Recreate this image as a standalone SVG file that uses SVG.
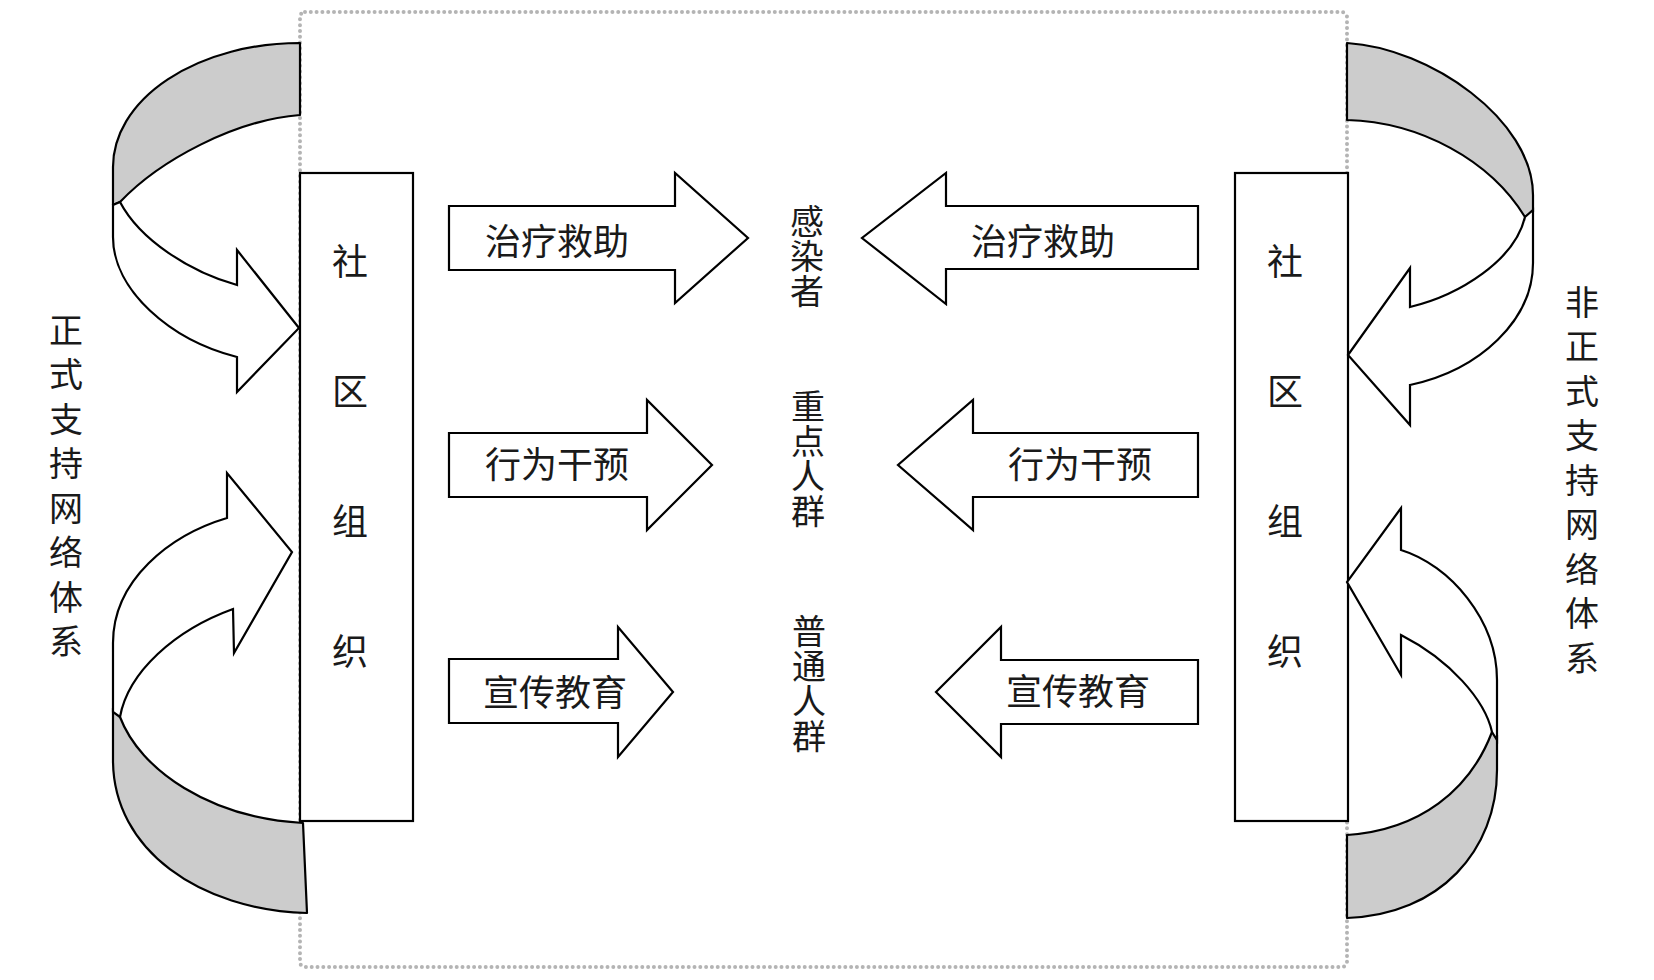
<svg xmlns="http://www.w3.org/2000/svg" width="1654" height="980" viewBox="0 0 1654 980">
<style>
.frame{fill:none;stroke:#b4b4b4;stroke-width:4;stroke-dasharray:0 5.8;stroke-linecap:round}
.box{fill:#fff;stroke:#000;stroke-width:2.2}
.shp{fill:#fff;stroke:#000;stroke-width:2.2;stroke-linejoin:miter}
.band{fill:#cccccc;stroke:#000;stroke-width:2.2;stroke-linejoin:round}
text{font-family:"Noto Sans CJK SC","Noto Sans",sans-serif;fill:#1a1a1a;text-anchor:middle;dominant-baseline:central}
.lbl{font-size:36px}
.vt{font-size:34px;writing-mode:vertical-rl;letter-spacing:1px}
.side{font-size:34px;writing-mode:vertical-rl;letter-spacing:10.5px}
.bx{font-size:36px}
</style>
<rect width="1654" height="980" fill="#fff"/>
<rect id="frame" class="frame" x="300" y="12" width="1047" height="955" rx="5"/>

<g id="box-left">
<rect class="box" x="300" y="173" width="113" height="648"/>
<text class="bx"><tspan x="350" y="259">社</tspan><tspan x="350" y="389">区</tspan><tspan x="350" y="519">组</tspan><tspan x="350" y="649">织</tspan></text>
</g>
<g id="box-right">
<rect class="box" x="1235" y="173" width="113" height="648"/>
<text class="bx"><tspan x="1285" y="259">社</tspan><tspan x="1285" y="389">区</tspan><tspan x="1285" y="519">组</tspan><tspan x="1285" y="649">织</tspan></text>
</g>

<g id="target-infected">
<text class="vt" x="807" y="257">感染者</text>
</g>
<g id="target-key">
<text class="vt" x="808" y="459">重点人群</text>
</g>
<g id="target-general">
<text class="vt" x="809" y="684">普通人群</text>
</g>

<g id="label-formal">
<text class="side" x="66" y="491">正式支持网络体系</text>
</g>
<g id="label-informal">
<text class="side" x="1582" y="485">非正式支持网络体系</text>
</g>

<g id="connectors">
<g id="curved-left-top">
<path class="band" d="M300,43 A187,124 0 0 0 113,167 L113,205 L120,202 C160,160 235,120 300,115 Z"/>
<path class="shp" d="M120,202 C140,240 190,272 237,285 L237,250 L299,328 L237,392 L237,357 C170,340 113,290 113,237 L113,205 Z"/>
</g>
<g id="curved-left-bottom">
<path class="band" d="M113,708 L120,717 C140,770 210,818 303,823 L307,913 C200,910 113,850 113,760 Z"/>
<path class="shp" d="M120,717 C128,672 175,630 233,609 L234,653 L292,552 L227,473 L227,518 C170,535 113,580 113,643 L113,712 Z"/>
</g>
<g id="curved-right-top">
<path class="band" d="M1347,43 C1430,48 1533,120 1533,195 L1533,212 L1525,217 C1490,160 1420,122 1347,120 Z"/>
<path class="shp" d="M1525,217 C1515,260 1460,295 1410,307 L1410,268 L1348,355 L1410,425 L1410,385 C1480,370 1533,320 1533,263 L1533,210 Z"/>
</g>
<g id="curved-right-bottom">
<path class="band" d="M1497,735 L1492,732 C1470,790 1420,830 1347,835 L1347,918 C1440,915 1497,850 1497,770 Z"/>
<path class="shp" d="M1492,732 C1485,700 1450,660 1401,635 L1401,675 L1347,582 L1401,508 L1401,550 C1450,565 1497,620 1497,680 L1497,740 Z"/>
</g>

<g id="arrow-l-treat">
<polygon class="shp" points="449,206 675,206 675,173 748,238 675,303 675,270 449,270"/>
<text class="lbl" x="557" y="239">治疗救助</text>
</g>
<g id="arrow-l-behav">
<polygon class="shp" points="449,433 647,433 647,400 712,465 647,530 647,497 449,497"/>
<text class="lbl" x="557" y="462">行为干预</text>
</g>
<g id="arrow-l-edu">
<polygon class="shp" points="449,659 618,659 618,627 673,692 618,757 618,723 449,723"/>
<text class="lbl" x="555" y="690">宣传教育</text>
</g>
<g id="arrow-r-treat">
<polygon class="shp" points="1198,206 946,206 946,173 862,238 946,304 946,269 1198,269"/>
<text class="lbl" x="1043" y="239">治疗救助</text>
</g>
<g id="arrow-r-behav">
<polygon class="shp" points="1198,433 973,433 973,400 898,465 973,530 973,497 1198,497"/>
<text class="lbl" x="1080" y="462">行为干预</text>
</g>
<g id="arrow-r-edu">
<polygon class="shp" points="1198,660 1001,660 1001,627 936,692 1001,757 1001,724 1198,724"/>
<text class="lbl" x="1078" y="689">宣传教育</text>
</g>
</g>
</svg>
